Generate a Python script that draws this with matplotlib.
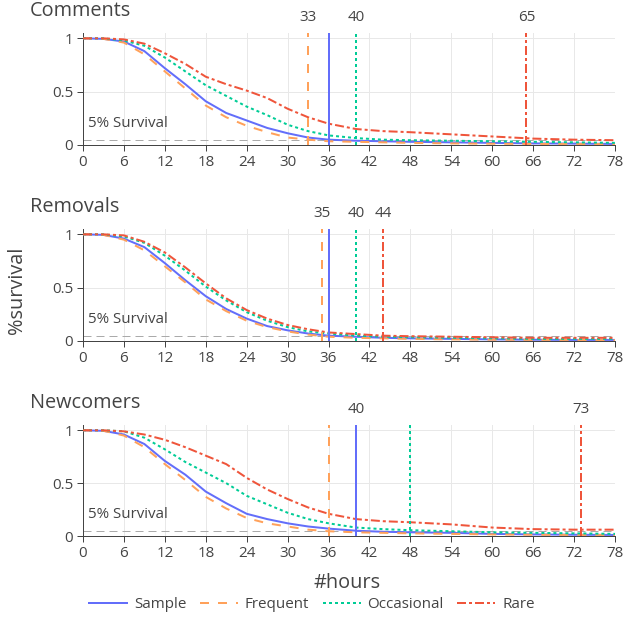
"""Survival curves (share still active vs hours) for comments, removals and newcomers."""

import matplotlib
matplotlib.use("Agg")
import matplotlib.pyplot as plt

plt.rcParams["font.family"] = ["Open Sans", "DejaVu Sans"]
plt.rcParams["lines.scale_dashes"] = False

# ---- data ----
hours = [0, 3, 6, 9, 12, 15, 18, 21, 24, 27, 30, 33, 36, 40, 44, 48, 54, 60, 66, 72, 78]
groups = ["Sample", "Frequent", "Occasional", "Rare"]

comments_sample = [1.0, 0.995, 0.97, 0.88, 0.72, 0.57, 0.41, 0.30, 0.23, 0.16, 0.11, 0.07, 0.05, 0.04, 0.035, 0.03, 0.025, 0.02, 0.015, 0.013, 0.01]
comments_frequent = [1.0, 0.995, 0.96, 0.85, 0.69, 0.53, 0.37, 0.26, 0.18, 0.12, 0.07, 0.05, 0.035, 0.03, 0.025, 0.02, 0.015, 0.012, 0.01, 0.01, 0.008]
comments_occasional = [1.0, 1.0, 0.98, 0.93, 0.82, 0.69, 0.56, 0.46, 0.36, 0.28, 0.19, 0.13, 0.09, 0.065, 0.05, 0.045, 0.04, 0.035, 0.03, 0.025, 0.02]
comments_rare = [1.0, 1.0, 0.99, 0.95, 0.86, 0.76, 0.64, 0.57, 0.51, 0.44, 0.34, 0.26, 0.20, 0.15, 0.13, 0.12, 0.10, 0.08, 0.06, 0.05, 0.045]

removals_sample = [1.0, 0.995, 0.96, 0.88, 0.73, 0.57, 0.42, 0.30, 0.21, 0.14, 0.10, 0.07, 0.05, 0.04, 0.03, 0.025, 0.02, 0.015, 0.012, 0.01, 0.01]
removals_frequent = [1.0, 0.995, 0.95, 0.85, 0.70, 0.55, 0.39, 0.28, 0.19, 0.13, 0.09, 0.06, 0.04, 0.03, 0.025, 0.02, 0.015, 0.012, 0.01, 0.01, 0.008]
removals_occasional = [1.0, 1.0, 0.98, 0.92, 0.80, 0.66, 0.51, 0.38, 0.27, 0.19, 0.13, 0.09, 0.07, 0.05, 0.04, 0.035, 0.03, 0.025, 0.02, 0.02, 0.02]
removals_rare = [1.0, 1.0, 0.99, 0.93, 0.83, 0.69, 0.54, 0.40, 0.29, 0.21, 0.15, 0.11, 0.08, 0.065, 0.05, 0.045, 0.04, 0.035, 0.03, 0.03, 0.03]

newcomers_sample = [1.0, 0.995, 0.96, 0.87, 0.71, 0.58, 0.42, 0.31, 0.21, 0.16, 0.12, 0.09, 0.07, 0.05, 0.04, 0.035, 0.03, 0.02, 0.015, 0.012, 0.01]
newcomers_frequent = [1.0, 0.995, 0.95, 0.84, 0.68, 0.53, 0.37, 0.26, 0.17, 0.12, 0.09, 0.06, 0.045, 0.035, 0.03, 0.025, 0.02, 0.015, 0.012, 0.01, 0.01]
newcomers_occasional = [1.0, 1.0, 0.99, 0.93, 0.82, 0.70, 0.60, 0.50, 0.38, 0.30, 0.22, 0.16, 0.12, 0.08, 0.065, 0.055, 0.045, 0.035, 0.03, 0.025, 0.02]
newcomers_rare = [1.0, 1.0, 0.99, 0.96, 0.91, 0.84, 0.76, 0.68, 0.55, 0.44, 0.35, 0.27, 0.21, 0.16, 0.14, 0.13, 0.11, 0.08, 0.065, 0.06, 0.06]

# hour at which each group drops below 5% (Sample, Frequent, Occasional, Rare)
comments_cut = [36, 33, 40, 65]
removals_cut = [36, 35, 40, 44]
newcomers_cut = [40, 36, 48, 73]
# which cut-off values carry a label above the panel
comments_labels = [33, 40, 65]
removals_labels = [35, 40, 44]
newcomers_labels = [40, 73]

panels = [
    ("Comments", [comments_sample, comments_frequent, comments_occasional, comments_rare],
     comments_cut, comments_labels),
    ("Removals", [removals_sample, removals_frequent, removals_occasional, removals_rare],
     removals_cut, removals_labels),
    ("Newcomers", [newcomers_sample, newcomers_frequent, newcomers_occasional, newcomers_rare],
     newcomers_cut, newcomers_labels),
]

# ---- styling (plotly-like) ----
colors = ["#636efa", "#ffa15a", "#00cc96", "#ef553b"]
px = 0.72  # points per pixel at dpi 100
styles = [
    "-",
    (0, (9 * px, 9 * px)),
    (0, (3 * px, 3 * px)),
    (0, (9 * px, 3 * px, 3 * px, 3 * px)),
]
lw = 2 * px
dark = "#444444"
small = 10.9
big = 14.3

fig = plt.figure(figsize=(6.24, 6.20), dpi=100)
# axes boxes in figure fraction: left, bottom, width, height
boxes = [
    (83 / 624, 1 - 145 / 620, 532 / 624, 112 / 620),
    (83 / 624, 1 - 341 / 620, 532 / 624, 112 / 620),
    (83 / 624, 1 - 536 / 620, 532 / 624, 111 / 620),
]

handles = []
for (title, series, cuts, shown), box in zip(panels, boxes):
    ax = fig.add_axes(box)
    for i, (name, ys) in enumerate(zip(groups, series)):
        h, = ax.plot(hours, ys, color=colors[i], linestyle=styles[i], lw=lw, label=name,
                     zorder=3)
        if len(handles) < len(groups):
            handles.append(h)
        ax.axvline(cuts[i], color=colors[i], linestyle=styles[i], lw=lw, zorder=4)
    for v in shown:
        ax.annotate(str(v), xy=(v, 1), xycoords=("data", "axes fraction"),
                    xytext=(0, 11), textcoords="offset points", ha="center",
                    va="center", fontsize=small, color=dark)

    ax.axhline(0.05, color="#aaaaaa", lw=px, linestyle=(0, (8 * px, 5 * px)), zorder=2)
    ax.text(0.7, 0.2, "5% Survival", fontsize=small, color=dark, ha="left", va="center")

    ax.set_xlim(0, 78)
    ax.set_ylim(0, 1.05)
    ax.set_xticks(range(0, 79, 6))
    ax.set_yticks([0, 0.5, 1])
    ax.set_yticklabels(["0", "0.5", "1"])
    ax.grid(color="#e8e8e8", lw=px, zorder=0)
    ax.set_axisbelow(True)
    for s in ("top", "right"):
        ax.spines[s].set_visible(False)
    for s in ("left", "bottom"):
        ax.spines[s].set_color(dark)
        ax.spines[s].set_linewidth(px)
    ax.tick_params(colors=dark, labelsize=small, length=4, width=px, pad=3)
    ax.text(-0.1, 1.2, title, transform=ax.transAxes, fontsize=big, color=dark,
            ha="left", va="center")

fig.text(17 / 624, 1 - 290 / 620, "%survival", rotation=90, fontsize=big, color=dark,
         ha="center", va="center")
fig.text(347 / 624, 1 - 583 / 620, "#hours", fontsize=big, color=dark,
         ha="center", va="center")
fig.legend(handles=handles, loc="center", bbox_to_anchor=(312 / 624, 1 - 605 / 620),
           ncol=4, frameon=False, fontsize=small, handlelength=2.5, columnspacing=0.9,
           handletextpad=0.45, labelcolor=dark)

fig.savefig("out.png", dpi=100, facecolor="white")
